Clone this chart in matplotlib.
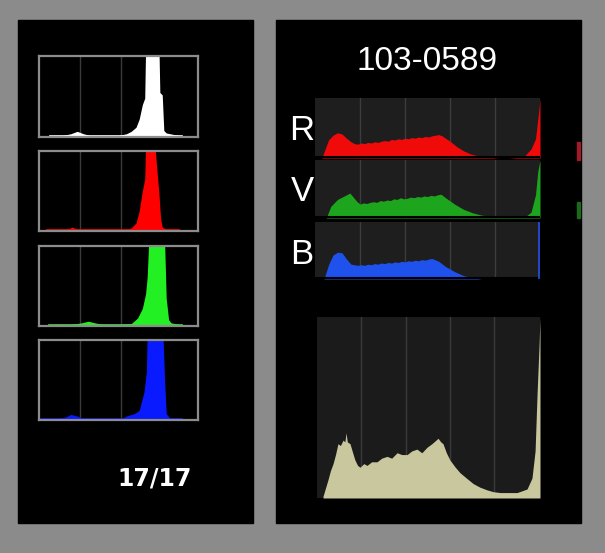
import numpy as np
import matplotlib.pyplot as plt
from matplotlib.patches import Rectangle

W, H = 605, 553
BG_GRAY = "#8b8b8b"
NARROW = ["Liberation Sans", "DejaVu Sans"]

# ---- data (x = fraction of histogram width, y = fraction of height) ----
# left: small camera histograms (luminance, R, G, B)
small_lum_x = [0.07, 0.10, 0.15, 0.20, 0.24, 0.28, 0.32, 0.40, 0.50, 0.55, 0.58, 0.61, 0.63, 0.65,
               0.665, 0.67, 0.70, 0.73, 0.755, 0.76, 0.775, 0.785, 0.80, 0.85, 0.88, 0.90]
small_lum_y = [0.0, 0.02, 0.02, 0.04, 0.07, 0.04, 0.02, 0.02, 0.02, 0.04, 0.07, 0.12, 0.22, 0.40,
               0.48, 1.05, 1.05, 1.05, 1.05, 0.55, 0.52, 0.08, 0.05, 0.03, 0.02, 0.0]

small_red_x = [0.05, 0.12, 0.18, 0.21, 0.24, 0.30, 0.45, 0.55, 0.58, 0.61, 0.63, 0.65, 0.665,
               0.67, 0.73, 0.74, 0.755, 0.765, 0.775, 0.80, 0.85, 0.88]
small_red_y = [0.0, 0.01, 0.02, 0.05, 0.02, 0.01, 0.01, 0.01, 0.04, 0.10, 0.25, 0.50, 0.65,
               1.05, 1.05, 0.80, 0.45, 0.15, 0.05, 0.02, 0.01, 0.0]

small_grn_x = [0.06, 0.12, 0.20, 0.27, 0.31, 0.35, 0.40, 0.50, 0.58, 0.62, 0.65, 0.67, 0.68,
               0.69, 0.79, 0.80, 0.815, 0.83, 0.88, 0.90]
small_grn_y = [0.0, 0.02, 0.02, 0.04, 0.06, 0.04, 0.02, 0.02, 0.03, 0.10, 0.22, 0.40, 0.60,
               1.05, 1.05, 0.35, 0.08, 0.04, 0.02, 0.0]

small_blu_x = [0.0, 0.10, 0.17, 0.20, 0.24, 0.28, 0.35, 0.45, 0.52, 0.55, 0.60, 0.63, 0.66,
               0.675, 0.68, 0.78, 0.79, 0.80, 0.82, 0.90]
small_blu_y = [0.0, 0.01, 0.04, 0.07, 0.05, 0.02, 0.01, 0.01, 0.02, 0.05, 0.08, 0.12, 0.35,
               0.60, 1.05, 1.05, 0.50, 0.08, 0.03, 0.0]

# right: per-channel histograms R / V / B
rgb_r_x = [0.03, 0.045, 0.06, 0.08, 0.10, 0.12, 0.14, 0.16, 0.175,
           0.19, 0.205, 0.22, 0.235, 0.25, 0.265, 0.28, 0.295, 0.31, 0.325, 0.34, 0.355,
           0.37, 0.385, 0.40, 0.415, 0.43, 0.445, 0.46, 0.475, 0.49, 0.505, 0.52, 0.535,
           0.55, 0.565, 0.58, 0.60, 0.63, 0.66, 0.69, 0.72, 0.75,
           0.78, 0.82, 0.86, 0.90, 0.93, 0.96, 0.98, 0.995, 1.0]
rgb_r_y = [0.0, 0.15, 0.30, 0.38, 0.42, 0.40, 0.33, 0.27, 0.24,
           0.23, 0.25, 0.24, 0.26, 0.25, 0.27, 0.26, 0.28, 0.29, 0.28, 0.31, 0.30,
           0.32, 0.31, 0.33, 0.32, 0.34, 0.33, 0.35, 0.34, 0.36, 0.35, 0.37, 0.38,
           0.39, 0.37, 0.33, 0.28, 0.19, 0.12, 0.07, 0.04, 0.02,
           0.01, 0.0, 0.0, 0.01, 0.03, 0.15, 0.32, 0.80, 1.0]

rgb_v_x = [0.05, 0.07, 0.10, 0.13, 0.155, 0.17, 0.185,
           0.20, 0.215, 0.23, 0.245, 0.26, 0.275, 0.29, 0.305, 0.32, 0.335, 0.35, 0.365,
           0.38, 0.395, 0.41, 0.425, 0.44, 0.455, 0.47, 0.485, 0.50, 0.515, 0.53, 0.545,
           0.56, 0.58, 0.62, 0.66, 0.70, 0.74, 0.78, 0.82, 0.86, 0.90, 0.94, 0.96,
           0.98, 0.99, 1.0]
rgb_v_y = [0.0, 0.20, 0.32, 0.38, 0.43, 0.36, 0.29,
           0.24, 0.26, 0.25, 0.27, 0.28, 0.27, 0.30, 0.29, 0.31, 0.30, 0.33, 0.32,
           0.35, 0.33, 0.34, 0.36, 0.35, 0.37, 0.36, 0.38, 0.37, 0.39, 0.38, 0.40,
           0.41, 0.35, 0.24, 0.15, 0.09, 0.05, 0.03, 0.02, 0.01, 0.02, 0.04, 0.10,
           0.40, 0.80, 1.0]

rgb_b_x = [0.04, 0.06, 0.08, 0.10, 0.12, 0.14, 0.16,
           0.175, 0.19, 0.205, 0.22, 0.235, 0.25, 0.265, 0.28, 0.295, 0.31, 0.325, 0.34,
           0.355, 0.37, 0.385, 0.40, 0.415, 0.43, 0.445, 0.46, 0.475, 0.49, 0.505,
           0.52, 0.55, 0.58, 0.62, 0.66, 0.70, 0.74, 1.0]
rgb_b_y = [0.0, 0.25, 0.42, 0.47, 0.46, 0.35, 0.26,
           0.25, 0.24, 0.25, 0.24, 0.26, 0.25, 0.27, 0.26, 0.28, 0.27, 0.29, 0.28,
           0.30, 0.29, 0.31, 0.30, 0.32, 0.31, 0.33, 0.32, 0.34, 0.33, 0.35,
           0.36, 0.31, 0.22, 0.13, 0.06, 0.02, 0.0, 0.0]

# right bottom: large luminance histogram
lum_x = [0.027, 0.049, 0.060, 0.072, 0.083, 0.094, 0.105, 0.117, 0.125, 0.130, 0.136, 0.148,
         0.160, 0.170, 0.182, 0.193, 0.210, 0.224, 0.245, 0.269, 0.290, 0.314, 0.335, 0.359,
         0.380, 0.404, 0.425, 0.448, 0.470, 0.493, 0.515, 0.543, 0.555, 0.565, 0.580, 0.596,
         0.620, 0.641, 0.670, 0.700, 0.730, 0.762, 0.790, 0.821, 0.860, 0.897, 0.920, 0.942,
         0.964, 0.978, 0.987, 0.996, 1.0]
lum_y = [0.01, 0.10, 0.15, 0.19, 0.24, 0.30, 0.29, 0.32, 0.31, 0.36, 0.31, 0.30,
         0.25, 0.21, 0.18, 0.17, 0.19, 0.18, 0.20, 0.20, 0.22, 0.23, 0.22, 0.25,
         0.24, 0.24, 0.26, 0.27, 0.25, 0.28, 0.30, 0.33, 0.31, 0.30, 0.25, 0.21,
         0.17, 0.14, 0.11, 0.08, 0.06, 0.045, 0.035, 0.03, 0.03, 0.03, 0.04, 0.05,
         0.11, 0.26, 0.58, 0.85, 1.0]

title_text = "103-0589"
channel_labels = ["R", "V", "B"]
counter_text = "17/17"


def px_axes(fig, x0, y0, x1, y1):
    # pixel box (image coords, origin top-left) -> figure axes
    return fig.add_axes([x0 / W, 1 - y1 / H, (x1 - x0) / W, (y1 - y0) / H])


def px_rect(fig, x0, y0, x1, y1, color):
    fig.add_artist(Rectangle((x0 / W, 1 - y1 / H), (x1 - x0) / W, (y1 - y0) / H,
                             transform=fig.transFigure, color=color, zorder=0))


def hist_axes(ax, face, grid_x, grid_color, border=None):
    ax.set_xlim(0, 1)
    ax.set_ylim(0, 1)
    ax.set_facecolor(face)
    ax.set_xticks([])
    ax.set_yticks([])
    for gx in grid_x:
        ax.axvline(gx, color=grid_color, lw=1.0, zorder=1)
    for s in ax.spines.values():
        if border:
            s.set_color(border)
            s.set_linewidth(1.6)
        else:
            s.set_visible(False)


fig = plt.figure(figsize=(W / 100, H / 100), dpi=100, facecolor=BG_GRAY)

# black camera screens
px_rect(fig, 18, 20, 253, 523, "black")
px_rect(fig, 276, 20, 581, 523, "black")

# left column of small histograms
small_boxes = [(39, 56, 198, 137), (39, 151, 198, 231), (39, 246, 198, 326), (39, 340, 198, 420)]
small_data = [(small_lum_x, small_lum_y, "#ffffff"),
              (small_red_x, small_red_y, "#ff0000"),
              (small_grn_x, small_grn_y, "#22f022"),
              (small_blu_x, small_blu_y, "#0a1aff")]
for box, (xs, ys, col) in zip(small_boxes, small_data):
    ax = px_axes(fig, *box)
    hist_axes(ax, "black", [0.258, 0.516], "#3a3a3a", border="#8c8c8c")
    ax.fill_between(xs, 0, ys, color=col, lw=0, zorder=2)
    ax.plot([min(xs), max(xs)], [0.012, 0.012], color=col, lw=1.2, zorder=2)

fig.text(155 / W, 1 - 479 / H, counter_text, color="white", fontsize=17,
         fontweight="bold", ha="center", va="center")

# right column: R / V / B histograms
fig.text(427 / W, 1 - 62 / H, title_text, color="white", fontsize=24,
         ha="center", va="center", family=NARROW)

rgb_boxes = [(315, 98, 540, 158), (315, 160, 540, 218), (315, 222, 540, 279)]
rgb_data = [(rgb_r_x, rgb_r_y, "#f00a0a"),
            (rgb_v_x, rgb_v_y, "#1ea51e"),
            (rgb_b_x, rgb_b_y, "#1f52ec")]
label_y = [130, 192, 255]
for box, (xs, ys, col), lab, ly in zip(rgb_boxes, rgb_data, channel_labels, label_y):
    ax = px_axes(fig, *box)
    hist_axes(ax, "#1e1e1e", [0.2, 0.4, 0.6, 0.8], "#3c3c3c")
    ax.fill_between(xs, 0, ys, color=col, lw=0, zorder=2)
    ax.axhline(0.01, color="black", lw=1.5, zorder=3)
    fig.text(302 / W, 1 - ly / H, lab, color="white", fontsize=25,
             ha="center", va="center", family=NARROW)
    if lab == "B":
        ax.axvline(0.997, color=col, lw=1.2, zorder=3)

# edge marks of the neighbouring screen
px_rect(fig, 577, 142, 580, 160, "#a01a2a")
px_rect(fig, 577, 202, 580, 218, "#1a6a1a")

# large luminance histogram
ax = px_axes(fig, 317, 317, 540, 498)
hist_axes(ax, "#1b1b1b", [0.197, 0.40, 0.596, 0.794], "#3a3a3a")
ax.fill_between(lum_x, 0, lum_y, color="#c8c79e", lw=0, zorder=2)

fig.savefig("out.png", dpi=100, facecolor=BG_GRAY)
